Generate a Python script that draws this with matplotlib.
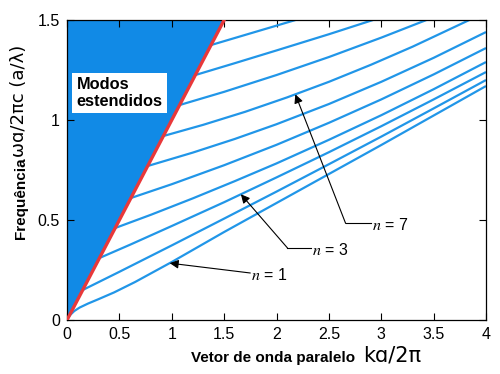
import numpy as np
import matplotlib.pyplot as plt
from matplotlib.ticker import FormatStrFormatter

plt.rcParams['font.family'] = ['Liberation Sans', 'DejaVu Sans']
plt.rcParams['mathtext.fontset'] = 'stix'

# light line (omega = c k) and the edge of the plot
light_k = [0.0, 1.5]
light_w = [0.0, 1.5]
w_top = 1.5

# guided bands, n = 1 .. 10
band_k = [
    [0.0, 0.03, 0.07, 0.12, 0.2, 0.3, 0.45, 0.65, 1.0, 1.5, 2.0, 3.0, 4.0],
    [0.15, 0.5, 1.0, 1.5, 2.0, 2.5, 3.0, 3.5, 4.0],
    [0.31, 0.6, 1.0, 1.5, 2.0, 2.5, 3.0, 3.5, 4.0],
    [0.46, 0.8, 1.2, 1.6, 2.0, 2.5, 3.0, 3.5, 4.0],
    [0.61, 1.0, 1.5, 2.0, 2.5, 3.0, 3.5, 4.0],
    [0.77, 1.2, 1.6, 2.0, 2.5, 3.0, 3.5, 4.0],
    [0.92, 1.3, 1.7, 2.1, 2.5, 2.9, 3.3, 3.84],
    [1.075, 1.5, 2.0, 2.5, 3.0, 3.43],
    [1.225, 1.6, 2.0, 2.5, 2.92],
    [1.375, 1.8, 2.18],
]
band_w = [
    [0.0, 0.025, 0.045, 0.062, 0.082, 0.104, 0.138, 0.19, 0.29, 0.44, 0.585, 0.875, 1.17],
    [0.15, 0.241, 0.373, 0.507, 0.642, 0.779, 0.917, 1.058, 1.20],
    [0.31, 0.376, 0.470, 0.589, 0.713, 0.839, 0.969, 1.103, 1.24],
    [0.46, 0.526, 0.608, 0.694, 0.783, 0.901, 1.024, 1.154, 1.29],
    [0.61, 0.679, 0.774, 0.876, 0.986, 1.103, 1.228, 1.36],
    [0.77, 0.837, 0.905, 0.979, 1.080, 1.191, 1.311, 1.44],
    [0.92, 0.976, 1.041, 1.113, 1.191, 1.276, 1.367, 1.50],
    [1.075, 1.141, 1.225, 1.315, 1.412, 1.50],
    [1.225, 1.284, 1.348, 1.429, 1.50],
    [1.375, 1.441, 1.50],
]

# labelled bands: (index into band lists, k of arrow tip, text label)
labels = [(0, 0.98, '1'), (2, 1.66, '3'), (6, 2.18, '7')]

xticks = [0, 0.5, 1, 1.5, 2, 2.5, 3, 3.5, 4]
yticks = [0, 0.5, 1, 1.5]

fig = plt.figure(figsize=(5.0, 3.74), dpi=100)
ax = fig.add_axes([0.134, 0.1444, 0.838, 0.802])

# extended modes above the light line
ax.fill_between(light_k, light_w, w_top, color='#118ae6', lw=0, zorder=1)

for k, w in zip(band_k, band_w):
    ax.plot(k, w, color='#2196e8', lw=1.6, solid_capstyle='butt', zorder=2)

ax.plot(light_k, light_w, color='#e8383a', lw=2.4, zorder=3)

ax.text(0.09, 1.135, 'Modos\nestendidos', fontsize=11.8, fontweight='bold',
        va='center', ha='left', linespacing=1.2, zorder=4,
        bbox=dict(facecolor='white', edgecolor='none', pad=3.0))

# n = 1 : straight leader
i, kt, lab = labels[0]
wt = np.interp(kt, band_k[i], band_w[i])
ax.annotate('', xy=(kt, wt), xytext=(1.75, 0.235),
            arrowprops=dict(arrowstyle='-|>', color='black', lw=0.8,
                            mutation_scale=13, shrinkA=0, shrinkB=0))
ax.text(1.76, 0.225, r'$n$ = ' + lab, fontsize=11.5, va='center', ha='left')

# n = 3 and n = 7 : leader with a horizontal tail
for (i, kt, lab), elbow, tail in zip(labels[1:], [(2.105, 0.36), (2.66, 0.483)],
                                      [2.33, 2.90]):
    wt = np.interp(kt, band_k[i], band_w[i])
    ax.annotate('', xy=(kt, wt), xytext=elbow,
                arrowprops=dict(arrowstyle='-|>', color='black', lw=0.8,
                                mutation_scale=13, shrinkA=0, shrinkB=0))
    ax.plot([elbow[0], tail], [elbow[1], elbow[1]], color='black', lw=0.8)
    ax.text(tail + 0.01, elbow[1] - 0.008, r'$n$ = ' + lab, fontsize=11.5,
            va='center', ha='left')

ax.set_xlim(0, 4)
ax.set_ylim(0, 1.5)
ax.set_xticks(xticks)
ax.set_yticks(yticks)
ax.xaxis.set_major_formatter(FormatStrFormatter('%g'))
ax.yaxis.set_major_formatter(FormatStrFormatter('%g'))
ax.tick_params(direction='in', top=True, right=True, length=5, width=0.8,
               labelsize=11.5, pad=5, colors='black')
for s in ax.spines.values():
    s.set_linewidth(0.9)

fig.text(0.71, 0.033, 'Vetor de onda paralelo', fontsize=11, fontweight='bold',
         ha='right', va='baseline')
fig.text(0.727, 0.033, 'k\u0251/2\u03c0', fontsize=15, ha='left', va='baseline',
         family=['DejaVu Sans'])
fig.text(0.042, 0.36, 'Frequência', fontsize=11, fontweight='bold',
         rotation=90, ha='center', va='bottom')
fig.text(0.038, 0.58, '\u03c9\u0251/2\u03c0c (a/\u03bb)', fontsize=13,
         rotation=90, ha='center', va='bottom', family=['DejaVu Sans'])

fig.savefig('out.png', dpi=100)
